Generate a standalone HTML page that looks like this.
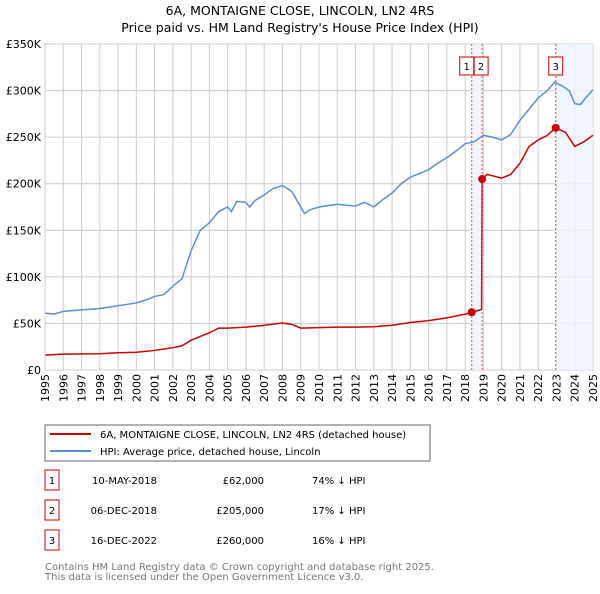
<!DOCTYPE html>
<html><head><meta charset="utf-8"><style>
body{margin:0;background:#fff;font-family:"DejaVu Sans","Liberation Sans",sans-serif;}
svg text{font-family:"DejaVu Sans","Liberation Sans",sans-serif;}
</style></head><body>
<svg id="c" width="600" height="590" xmlns="http://www.w3.org/2000/svg">
<text x="300" y="15" text-anchor="middle" font-size="12.5" fill="#000">6A, MONTAIGNE CLOSE, LINCOLN, LN2 4RS</text>
<text x="300" y="32" text-anchor="middle" font-size="12.5" fill="#000">Price paid vs. HM Land Registry's House Price Index (HPI)</text>
<g id="grid"></g><g id="shade"></g><g id="series"></g><g id="axes"></g>
<rect x="45" y="425" width="385" height="36" fill="#fff" stroke="#666"/>
<line x1="50" y1="434" x2="91" y2="434" stroke="#cc0000" stroke-width="2"/>
<text x="100" y="438" font-size="10">6A, MONTAIGNE CLOSE, LINCOLN, LN2 4RS (detached house)</text>
<line x1="50" y1="451" x2="91" y2="451" stroke="#5b8fd4" stroke-width="2"/>
<text x="100" y="455" font-size="10">HPI: Average price, detached house, Lincoln</text>
<g id="table" font-size="10"></g>
<text x="45" y="570" font-size="10" fill="#777">Contains HM Land Registry data © Crown copyright and database right 2025.</text>
<text x="45" y="580" font-size="10" fill="#777">This data is licensed under the Open Government Licence v3.0.</text>
</svg>
<script>
const yTicks=[0,50,100,150,200,250,300,350];
const yTickLabels=["£0","£50K","£100K","£150K","£200K","£250K","£300K","£350K"];
const years=[1995,1996,1997,1998,1999,2000,2001,2002,2003,2004,2005,2006,2007,2008,2009,2010,2011,2012,2013,2014,2015,2016,2017,2018,2019,2020,2021,2022,2023,2024,2025];
const hpiT=[1995,1995.5,1996,1997,1998,1999,2000,2000.5,2001,2001.5,2002,2002.5,2003,2003.5,2004,2004.5,2005,2005.2,2005.5,2006,2006.2,2006.5,2007,2007.5,2008,2008.5,2009,2009.2,2009.5,2010,2011,2012,2012.5,2013,2013.5,2014,2014.5,2015,2016,2016.5,2017,2017.5,2018,2018.5,2019,2019.5,2020,2020.5,2021,2021.5,2022,2022.5,2022.9,2023.3,2023.7,2024,2024.3,2024.6,2025];
const hpiV=[61,60,63,64.5,66,69,72,75,79,81,90,98,128,150,158,170,175,170,181,180,175,182,188,195,198,192,175,168,172,175,178,176,180,175,183,190,200,207,215,222,228,235,243,245,252,250,247,253,268,280,292,300,309,305,300,286,285,292,301];
const priceT=[1995,1996,1998,1999,2000,2001,2002,2002.5,2003,2003.5,2004,2004.5,2005,2006,2007,2008,2008.5,2009,2010,2011,2012,2013,2014,2015,2016,2017,2018,2018.36,2018.9,2018.93,2019.2,2020,2020.5,2021,2021.5,2022,2022.5,2022.96,2023.5,2024,2024.5,2025];
const priceV=[16,17,17.5,18.5,19,21,24,26,32,36,40,45,45,46,48,50.5,49,45,45.5,46,46,46.5,48,51,53,56,60,62,65,205,210,206,210,222,240,247,252,260,255,240,245,252];
const saleT=[2018.36,2018.93,2022.96];
const saleV=[62,205,260];
const saleLabels=["1","2","3"];
const saleDates=["10-MAY-2018","06-DEC-2018","16-DEC-2022"];
const salePrices=["£62,000","£205,000","£260,000"];
const saleHpi=["74% ↓ HPI","17% ↓ HPI","16% ↓ HPI"];

const NS="http://www.w3.org/2000/svg";
const X0=45,X1=593,Y0=370,Y1=44;
const xs=t=>X0+(t-1995)/30*(X1-X0);
const ys=v=>Y0-v/350*(Y0-Y1);
function mk(tag,at,parent){const e=document.createElementNS(NS,tag);for(const k in at)e.setAttribute(k,at[k]);parent.appendChild(e);return e;}
const grid=document.getElementById('grid'),axes=document.getElementById('axes'),shade=document.getElementById('shade'),ser=document.getElementById('series'),tbl=document.getElementById('table');
mk('rect',{x:X0,y:Y1,width:X1-X0,height:Y0-Y1,fill:'#fff',stroke:'#ccc'},grid);
yTicks.forEach((v,i)=>{
 const l=mk('line',{x1:X0,x2:X1,y1:ys(v),y2:ys(v),stroke:'#ccc'},grid);
 
 
 const t=mk('text',{x:X0-4,y:ys(v)+4,'text-anchor':'end','font-size':'11'},axes);
 t.textContent=yTickLabels[i];
 
 
});
years.forEach(y=>{
 const l=mk('line',{x1:xs(y),x2:xs(y),y1:Y1,y2:Y0,stroke:'#ccc'},grid);
 
 
 const t=mk('text',{x:0,y:0,'text-anchor':'end','font-size':'11',transform:`translate(${xs(y)+4},${Y0+4}) rotate(-90)`},axes);
 t.textContent=y;
 
 
});
const s1=mk('rect',{x:xs(saleT[0]),y:Y1,width:xs(saleT[1])-xs(saleT[0]),height:Y0-Y1,fill:'#eef3fc',opacity:0.8},shade);


const s2=mk('rect',{x:xs(saleT[2]),y:Y1,width:X1-xs(saleT[2]),height:Y0-Y1,fill:'#eef3fc',opacity:0.8},shade);


const hp=mk('polyline',{points:hpiT.map((t,i)=>xs(t)+','+ys(hpiV[i])).join(' '),fill:'none',stroke:'#5b8fd4','stroke-width':1.5},ser);


const pp=mk('polyline',{points:priceT.map((t,i)=>xs(t)+','+ys(priceV[i])).join(' '),fill:'none',stroke:'#cc0000','stroke-width':1.5},ser);


const bx=[-5,-1,0];
saleT.forEach((t,i)=>{
 const v=mk('line',{x1:xs(t),x2:xs(t),y1:Y1,y2:Y0,stroke:'#e05050','stroke-dasharray':'2,2'},ser);
 
 
 const d=mk('circle',{cx:xs(t),cy:ys(saleV[i]),r:4,fill:'#cc0000'},ser);
 
 
 const bxx=xs(t)+bx[i];
 const r=mk('rect',{x:bxx-7,y:57,width:14,height:18,fill:'#fff',stroke:'#cc0000'},ser);
 
 
 const tx=mk('text',{x:bxx,y:70,'text-anchor':'middle','font-size':'10'},ser);
 tx.textContent=saleLabels[i];
 
 
 const ry=483+i*30;
 const tb=mk('rect',{x:45,y:ry-13,width:14,height:20,fill:'#fff',stroke:'#cc0000'},tbl);
 
 
 const cells=[[52,saleLabels[i],'middle'],[157,saleDates[i],'end'],[264,salePrices[i],'end'],[312,saleHpi[i],'start']];
 cells.forEach(c=>{const e=mk('text',{x:c[0],y:ry+1,'text-anchor':c[2]},tbl);e.textContent=c[1];
  
  });
});
mk('line',{x1:X0,x2:X0,y1:Y1,y2:Y0,stroke:'#ccc'},axes);
</script>
</body></html>
